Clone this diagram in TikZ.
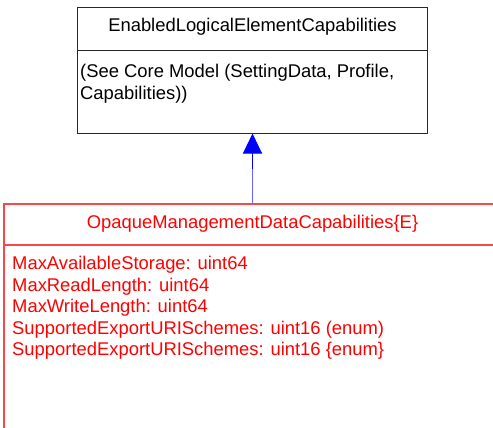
\documentclass[tikz,border=0pt]{standalone}
\usepackage{fontspec}
\setmainfont{Liberation Sans}
\usetikzlibrary{arrows.meta}
\definecolor{umlred}{RGB}{255,0,0}
\definecolor{umlredline}{RGB}{250,70,70}
\definecolor{umlgray}{RGB}{40,40,40}
\definecolor{lightblue}{RGB}{100,100,255}
\tikzset{
  uml/.style={font=\fontsize{18.4bp}{21.5bp}\selectfont, inner sep=0pt},
  blackbox/.style={draw=umlgray, line width=1bp, inner sep=0pt},
  redbox/.style={draw=umlredline, line width=1.2bp, inner sep=0pt},
  redtext/.style={uml, text=umlred},
  inherit/.style={draw=blue, line width=1bp, -{Triangle[width=19bp,length=20bp]}}
}
\begin{document}
\begin{tikzpicture}[x=1bp,y=-1bp]
\useasboundingbox (0,0) rectangle (493,427);
% top class
\node[blackbox, minimum width=349bp, minimum height=126bp] (top) at (252.5,70) {};
\draw[umlgray, line width=1bp] (78,50) -- (427,50);
\node[uml, anchor=base] (toptitle) at (252.5,31.5) {EnabledLogicalElementCapabilities};
\node[uml, anchor=north west, align=left] (topbody) at (80,64)
  {(See Core Model (SettingData, Profile,\\Capabilities))};
% bottom class (cut off at right and bottom)
\node[redbox, minimum width=536bp, minimum height=280bp] (bot) at (272,344) {};
\draw[umlredline, line width=1.2bp] (4,245) -- (540,245);
\node[redtext, anchor=base] (bottitle) at (252.5,228) {OpaqueManagementDataCapabilities\{E\}};
\node[redtext, anchor=north west, align=left] (botbody) at (12,256)
  {MaxAvailableStorage: uint64\\MaxReadLength: uint64\\MaxWriteLength: uint64\\SupportedExportURISchemes: uint16 (enum)\\SupportedExportURISchemes: uint16 \{enum\}};
% generalization
\coordinate (mid) at ([yshift=-35bp]top.south);
\draw[lightblue, line width=1bp] (top.south |- bot.north) -- (mid);
\draw[inherit] (mid) -- (top.south);
\end{tikzpicture}
\end{document}
